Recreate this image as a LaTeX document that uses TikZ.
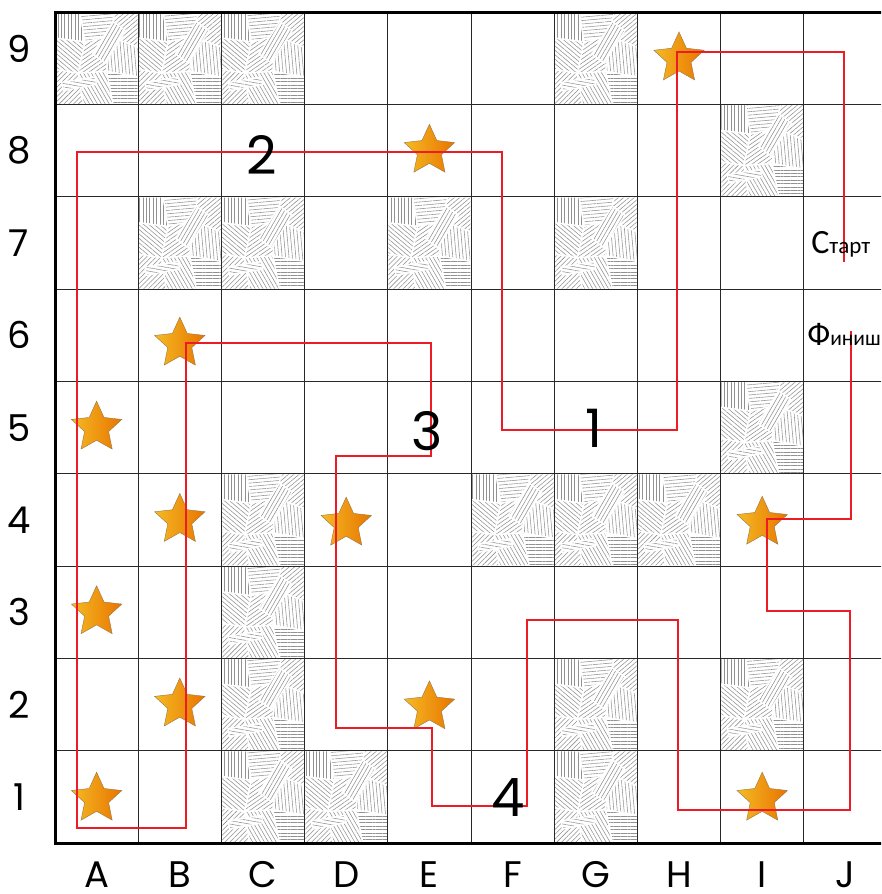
\documentclass[tikz,border=0pt]{standalone}
\usepackage{fontspec}
\newfontfamily\labelfont{Poppins}
\newfontfamily\cyrfont{Carlito}
\usepackage{tikz}
\usetikzlibrary{shapes.geometric, patterns.meta}
\definecolor{routered}{RGB}{237,28,36}
\definecolor{starlight}{RGB}{245,186,36}
\definecolor{stardark}{RGB}{232,116,0}
\definecolor{starrim}{RGB}{150,118,70}
\definecolor{hatchgray}{RGB}{145,145,145}
\definecolor{gridgray}{RGB}{40,40,40}
\tikzset{
  cellline/.style = {draw=gridgray, line width=1pt},
  frame/.style    = {draw=black, line width=3pt},
  hatch/.style    = {preaction={fill=white}, pattern={Lines[angle=#1, distance=3.4pt, line width=0.55pt]}, pattern color=hatchgray, draw=white, line width=1.3pt},
  goldstar/.style = {star, star points=5, star point ratio=2.1, minimum size=53pt, inner sep=0pt, left color=starlight, right color=stardark, draw=starrim, line width=0.4pt},
  route/.style    = {draw=routered, line width=1.8pt, line join=miter},
  axislbl/.style  = {font=\labelfont\fontsize{37}{37}\selectfont, inner sep=0pt},
  bignum/.style   = {font=\labelfont\fontsize{53}{53}\selectfont, inner sep=0pt},
  cyrlbl/.style   = {font=\cyrfont, inner sep=0pt, anchor=base west},
}
% one blocked cell, column #1, row #2
\newcommand{\hatchcell}[2]{%
  \begin{scope}[shift={(#1-1,#2-1)}]
    \clip (0,0) rectangle (1,1);
    \path[hatch=90]  (0,1) -- (0.3,1) -- (0.36,0.68) -- (0,0.72) -- cycle;
    \path[hatch=5]   (0.3,1) -- (0.72,1) -- (0.66,0.74) -- (0.36,0.68) -- cycle;
    \path[hatch=40]  (0.72,1) -- (1,1) -- (1,0.62) -- (0.66,0.74) -- cycle;
    \path[hatch=140] (0,0.72) -- (0.36,0.68) -- (0.28,0.34) -- (0,0.38) -- cycle;
    \path[hatch=35]  (0.36,0.68) -- (0.66,0.74) -- (0.62,0.36) -- (0.28,0.34) -- cycle;
    \path[hatch=95]  (0.66,0.74) -- (1,0.62) -- (1,0.3) -- (0.62,0.36) -- cycle;
    \path[hatch=45]  (0,0.38) -- (0.28,0.34) -- (0.34,0) -- (0,0) -- cycle;
    \path[hatch=120] (0.28,0.34) -- (0.62,0.36) -- (0.7,0) -- (0.34,0) -- cycle;
    \path[hatch=0]   (0.62,0.36) -- (1,0.3) -- (1,0) -- (0.7,0) -- cycle;
    \path[hatch=60]  (0.45,0.55) -- (0.6,0.45) -- (0.85,0.8) -- (0.7,0.9) -- cycle;
    \path[hatch=170] (0.1,0.15) -- (0.5,0.22) -- (0.48,0.3) -- (0.08,0.24) -- cycle;
  \end{scope}}

\begin{document}
\begin{tikzpicture}[x=83.2pt, y=92.3pt]
  \useasboundingbox (-0.6611,-0.5525) rectangle (9.9279,9.1333);
  \clip (-0.6611,-0.5525) rectangle (9.9279,9.1333);
  \fill[white] (-0.6611,-0.5525) rectangle (9.9279,9.1333);

  % blocked cells
  \foreach \c/\r in {1/9,2/9,3/9,7/9,9/8,2/7,3/7,5/7,7/7,9/5,3/4,6/4,7/4,8/4,3/3,3/2,7/2,9/2,3/1,4/1,7/1}
    \hatchcell{\c}{\r};

  % grid
  \foreach \i in {1,...,9}
    \draw[cellline] (\i,0) -- (\i,9);
  \foreach \j in {1,...,8}
    \draw[cellline] (0,\j) -- (10,\j);
  \draw[frame] (0,0) rectangle (10,9);

  % column and row labels
  \foreach \c [count=\i] in {A,B,C,D,E,F,G,H,I,J}
    \node[axislbl] (col-\c) at (\i-0.5,-0.345) {\c};
  \foreach \r in {1,...,8}
    \node[axislbl] (row-\r) at (-0.433,\r-0.5) {\r};
  \node[axislbl] (row-9) at (-0.433,8.602) {9};

  % stars
  \foreach \x/\y/\n in {0.5/0.48/A1, 0.5/2.5/A3, 0.5/4.5/A5, 1.5/1.5/B2, 1.5/3.5/B4, 1.5/5.41/B6,
                        3.5/3.46/D4, 4.5/1.47/E2, 4.5/7.5/E8, 7.5/8.5/H9, 8.5/0.48/I1, 8.5/3.47/I4}
    \node[goldstar] (star-\n) at (\x,\y) {};

  % route
  \coordinate (start) at (9.483,6.295);
  \coordinate (finish) at (9.567,5.547);
  \draw[route] (start) -- (9.483,8.570) -- (7.476,8.570) -- (7.476,4.475) -- (5.373,4.475)
    -- (5.373,7.486) -- (0.264,7.486) -- (0.264,0.163) -- (1.575,0.163) -- (1.575,5.417)
    -- (4.519,5.417) -- (4.519,4.193) -- (3.377,4.193) -- (3.377,1.246) -- (4.531,1.246)
    -- (4.531,0.401) -- (5.673,0.401) -- (5.673,2.416) -- (7.488,2.416) -- (7.488,0.358)
    -- (9.555,0.358) -- (9.555,2.514) -- (8.558,2.514) -- (8.558,3.510) -- (9.567,3.510)
    -- (finish);

  % start and finish
  \node[cyrlbl] (lbl-start) at (9.087,6.392)
    {{\fontsize{34}{34}\selectfont С}{\fontsize{23}{24}\selectfont тарт}};
  \node[cyrlbl] (lbl-finish) at (9.040,5.385)
    {{\fontsize{33}{33}\selectfont Ф}{\fontsize{21.5}{22}\selectfont иниш}};

  % leg numbers
  \node[bignum] (leg-1) at (6.478,4.496) {1};
  \node[bignum] (leg-2) at (2.488,7.454) {2};
  \node[bignum] (leg-3) at (4.471,4.464) {3};
  \node[bignum] (leg-4) at (5.445,0.488) {4};
\end{tikzpicture}
\end{document}
